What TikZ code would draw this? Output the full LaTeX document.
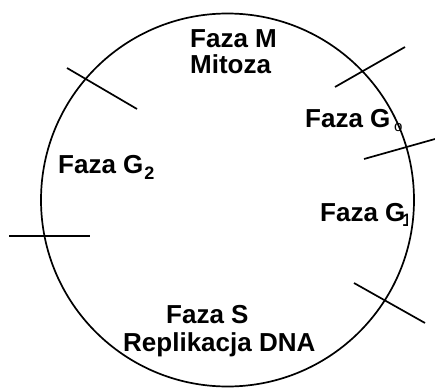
\documentclass[tikz,border=0pt]{standalone}
\usepackage{fontspec}
\setmainfont{Liberation Sans}
\begin{document}
\begin{tikzpicture}[x=1pt,y=-1pt,
  phase/.style={anchor=base west,inner sep=0pt,font=\fontsize{26}{27}\selectfont\bfseries},
  rim/.style={line width=1.7pt},
  cut/.style={line width=1.7pt}]
\newcommand\lowsub[3]{\kern#1\raisebox{-#2}{\fontsize{18}{18}\selectfont #3}}
\useasboundingbox (0,0) rectangle (435,387);

% cell cycle ring
\coordinate (c) at (227.5,200);
\draw[rim] (c) circle[radius=186.5];

% phase boundaries
\coordinate (a1) at (67,68);   \coordinate (a2) at (137,109);
\coordinate (b1) at (9,236);   \coordinate (b2) at (90,236);
\coordinate (d1) at (335,87);  \coordinate (d2) at (405,47);
\coordinate (e1) at (364,159); \coordinate (e2) at (435,139);
\coordinate (f1) at (354,283); \coordinate (f2) at (425,323);
\draw[cut] (a1) -- (a2);
\draw[cut] (b1) -- (b2);
\draw[cut] (d1) -- (d2);
\draw[cut] (e1) -- (e2);
\draw[cut] (f1) -- (f2);

% phase labels
\node[phase] (m1) at (190,48) {Faza M};
\node[phase] (m2) at (190,74) {Mitoza};
\node[phase] (g2) at (58,173) {Faza G\lowsub{1pt}{6pt}{2}};
\node[phase] (g0) at (305,128) {Faza G};
\node[anchor=base west,inner sep=0pt,font=\fontsize{15}{15}\selectfont] (g0s) at (394,132) {o};
\node[phase] (g1) at (320,221) {Faza G};
% subscript 1 partly hidden by the ring
\begin{scope}
  \clip (395,205) rectangle (407.5,232);
  \node[anchor=base west,inner sep=0pt,font=\fontsize{18}{18}\selectfont\bfseries] (g1s) at (402,226) {1};
\end{scope}
\node[phase] (s1) at (166,323) {Faza S};
\node[phase] (s2) at (123,351) {Replikacja DNA};
\end{tikzpicture}
\end{document}
